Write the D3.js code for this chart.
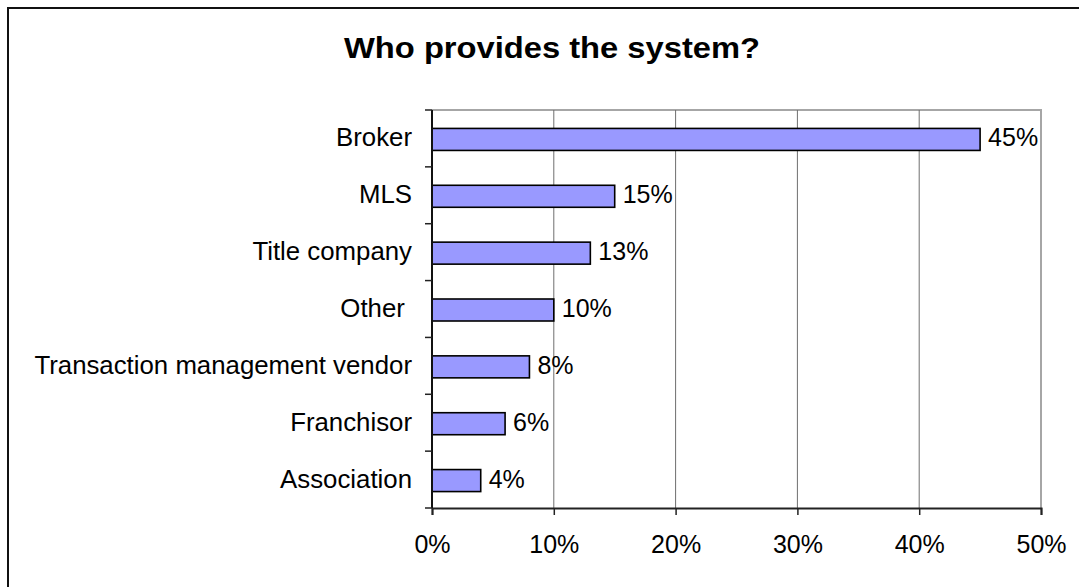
<!DOCTYPE html>
<html>
<head>
<meta charset="utf-8">
<script src="https://cdn.jsdelivr.net/npm/d3@7"></script>
<style>
  html, body { margin: 0; padding: 0; background: #fff; }
  svg { display: block; font-family: "Liberation Sans", Arial, sans-serif; }
  .cat { white-space: pre; }
</style>
</head>
<body>
<svg id="chart" width="1079" height="587"></svg>
<script>
// Survey answers: who provides the transaction system
const categories = ["Broker", "MLS", "Title company", "Other ", "Transaction management vendor", "Franchisor", "Association"];
const shares = [45, 15, 13, 10, 8, 6, 4];
const xTicks = [0, 10, 20, 30, 40, 50];
const title = "Who provides the system?";

const svg = d3.select("#chart");
const W = 1079, H = 587;
const plot = { left: 432, right: 1041, top: 110, bottom: 508 };

// Frame around the whole chart (right/bottom edges fall outside the view)
svg.append("rect")
  .attr("x", 8).attr("y", 8)
  .attr("width", W + 20).attr("height", H + 20)
  .attr("fill", "#fff").attr("stroke", "#111").attr("stroke-width", 2);

// Title
svg.append("text")
  .attr("x", 552).attr("y", 58)
  .attr("text-anchor", "middle")
  .attr("font-size", 30).attr("font-weight", "bold")
  .attr("textLength", 416).attr("lengthAdjust", "spacingAndGlyphs")
  .text(title);

const x = d3.scaleLinear().domain([0, 50]).range([plot.left, plot.right]);
const y = d3.scaleBand().domain(categories).range([plot.top, plot.bottom]);

// Plot area border (top and right)
svg.append("path")
  .attr("d", `M${plot.left},${plot.top}H${plot.right}V${plot.bottom}`)
  .attr("fill", "none").attr("stroke", "#a6a6a6").attr("stroke-width", 2);

// Vertical gridlines
svg.append("g")
  .selectAll("line")
  .data(xTicks.filter(t => t > 0 && t < 50))
  .join("line")
  .attr("x1", d => x(d)).attr("x2", d => x(d))
  .attr("y1", plot.top).attr("y2", plot.bottom)
  .attr("stroke", "#6e6e6e").attr("stroke-width", 1);

// Bars
const barH = 22;
const barY = d => y(d) + (y.bandwidth() - barH) / 2 + 1;
svg.append("g")
  .selectAll("rect")
  .data(categories)
  .join("rect")
  .attr("x", x(0))
  .attr("y", d => barY(d))
  .attr("width", (d, i) => x(shares[i]) - x(0))
  .attr("height", barH)
  .attr("fill", "#9999ff")
  .attr("stroke", "#000").attr("stroke-width", 1.6);

// Value labels
svg.append("g")
  .selectAll("text")
  .data(categories)
  .join("text")
  .attr("x", (d, i) => x(shares[i]) + 8)
  .attr("y", d => barY(d) + barH / 2 + 7)
  .attr("font-size", 25)
  .text((d, i) => shares[i] + "%");

// X axis
const xAxis = d3.axisBottom(x)
  .tickValues(xTicks)
  .tickFormat(d => d + "%")
  .tickSize(7)
  .tickPadding(20);
const gx = svg.append("g")
  .attr("transform", `translate(0,${plot.bottom})`)
  .call(xAxis);
gx.select(".domain").attr("stroke", "#222").attr("stroke-width", 2);
gx.selectAll(".tick line").attr("stroke", "#222").attr("stroke-width", 1.5);
gx.selectAll(".tick text")
  .attr("font-size", 25).attr("fill", "#000")
  .attr("font-family", "Liberation Sans, Arial, sans-serif");

// Y axis: ticks sit on the category boundaries
const gy = svg.append("g").attr("transform", `translate(${plot.left},0)`);
gy.append("line")
  .attr("x1", 0).attr("x2", 0)
  .attr("y1", plot.top).attr("y2", plot.bottom)
  .attr("stroke", "#111").attr("stroke-width", 2);
const boundaries = categories.map(c => y(c)).concat([plot.bottom]);
gy.selectAll("line.tick")
  .data(boundaries)
  .join("line")
  .attr("class", "tick")
  .attr("x1", -7).attr("x2", 0)
  .attr("y1", d => d).attr("y2", d => d)
  .attr("stroke", "#222").attr("stroke-width", 1.5);
gy.selectAll("text")
  .data(categories)
  .join("text")
  .attr("class", "cat")
  .attr("x", -20)
  .attr("y", d => barY(d) + barH / 2 + 7)
  .attr("text-anchor", "end")
  .attr("font-size", 25.8)
  .text(d => d);
</script>
</body>
</html>
